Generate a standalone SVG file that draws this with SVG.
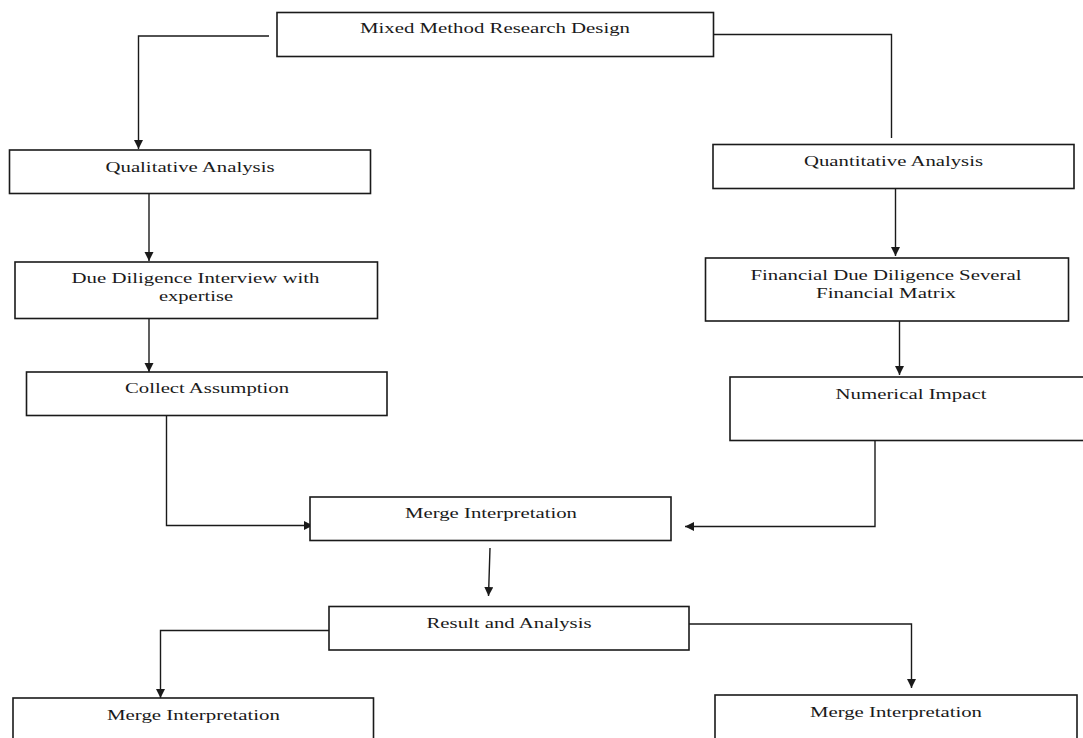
<svg xmlns="http://www.w3.org/2000/svg" width="1083" height="738" viewBox="0 0 1083 738">
<style>
.box{fill:#fff;stroke:#1a1a1a;stroke-width:1.6}
.lbl{font-family:"Liberation Serif","Times New Roman",serif;font-size:15px;fill:#1a1a1a;text-anchor:middle}
.con{fill:none;stroke:#1a1a1a;stroke-width:1.4}
</style>
<defs>
<marker id="ah" markerUnits="userSpaceOnUse" markerWidth="10" markerHeight="10" refX="9" refY="4.5" orient="auto">
<path d="M0,0 L9,4.5 L0,9 z" fill="#1a1a1a"/>
</marker>
</defs>
<rect width="1083" height="738" fill="#fff"/>
<g id="connectors">
<path class="con" d="M269,36 H138.5 V149" marker-end="url(#ah)"/>
<path class="con" d="M714,34.5 H891.5 V138"/>
<path class="con" d="M149,193.5 V261" marker-end="url(#ah)"/>
<path class="con" d="M149,318.5 V372" marker-end="url(#ah)"/>
<path class="con" d="M895.5,188.5 V256" marker-end="url(#ah)"/>
<path class="con" d="M899.5,320 V375" marker-end="url(#ah)"/>
<path class="con" d="M166.5,415.5 V525.5 H313" marker-end="url(#ah)"/>
<path class="con" d="M875,440.5 V526.5 H685" marker-end="url(#ah)"/>
<path class="con" d="M490,548 L488.5,596" marker-end="url(#ah)"/>
<path class="con" d="M329,630.5 H160.5 V698" marker-end="url(#ah)"/>
<path class="con" d="M689,624 H911.5 V688" marker-end="url(#ah)"/>
</g>
<g id="n-mixed">
<rect class="box" x="277" y="12.5" width="436.5" height="44"/>
<text class="lbl" x="495" y="33" textLength="270" lengthAdjust="spacingAndGlyphs">Mixed Method Research Design</text>
</g>
<g id="n-qual">
<rect class="box" x="9.5" y="150" width="361" height="43.5"/>
<text class="lbl" x="190" y="171.5" textLength="169" lengthAdjust="spacingAndGlyphs">Qualitative Analysis</text>
</g>
<g id="n-quant">
<rect class="box" x="713" y="144.5" width="361" height="44"/>
<text class="lbl" x="893.5" y="165.5" textLength="179" lengthAdjust="spacingAndGlyphs">Quantitative Analysis</text>
</g>
<g id="n-due">
<rect class="box" x="15" y="262" width="362.5" height="56.5"/>
<text class="lbl" x="195.5" y="283" textLength="248" lengthAdjust="spacingAndGlyphs">Due Diligence Interview with</text>
<text class="lbl" x="196" y="300.5" textLength="74" lengthAdjust="spacingAndGlyphs">expertise</text>
</g>
<g id="n-fin">
<rect class="box" x="705.5" y="258" width="363" height="63"/>
<text class="lbl" x="886" y="280" textLength="271" lengthAdjust="spacingAndGlyphs">Financial Due Diligence Several</text>
<text class="lbl" x="886" y="298" textLength="140" lengthAdjust="spacingAndGlyphs">Financial Matrix</text>
</g>
<g id="n-collect">
<rect class="box" x="26.5" y="372" width="360.5" height="43.5"/>
<text class="lbl" x="207" y="393" textLength="164" lengthAdjust="spacingAndGlyphs">Collect Assumption</text>
</g>
<g id="n-numeric">
<rect class="box" x="730" y="377" width="362" height="63.5"/>
<text class="lbl" x="911" y="398.5" textLength="151" lengthAdjust="spacingAndGlyphs">Numerical Impact</text>
</g>
<g id="n-merge">
<rect class="box" x="310" y="497" width="361" height="43.5"/>
<text class="lbl" x="491" y="518" textLength="172" lengthAdjust="spacingAndGlyphs">Merge Interpretation</text>
</g>
<g id="n-result">
<rect class="box" x="329" y="606.5" width="360" height="43.5"/>
<text class="lbl" x="509" y="627.5" textLength="165" lengthAdjust="spacingAndGlyphs">Result and Analysis</text>
</g>
<g id="n-merge-left">
<rect class="box" x="13" y="698" width="360.5" height="50"/>
<text class="lbl" x="193.5" y="719.5" textLength="173" lengthAdjust="spacingAndGlyphs">Merge Interpretation</text>
</g>
<g id="n-merge-right">
<rect class="box" x="715" y="695" width="362" height="53"/>
<text class="lbl" x="896" y="716.5" textLength="172" lengthAdjust="spacingAndGlyphs">Merge Interpretation</text>
</g>
</svg>
